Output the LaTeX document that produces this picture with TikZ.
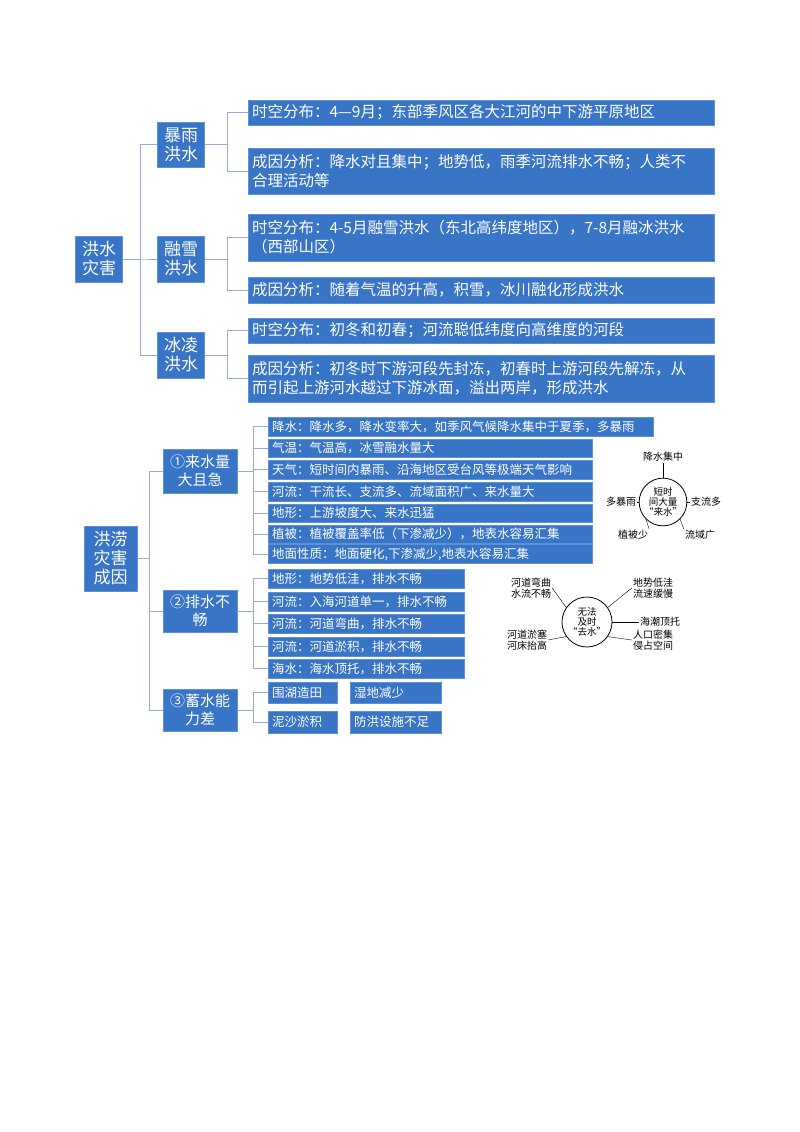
\documentclass[tikz,border=0pt]{standalone}
\usepackage{fontspec}
\setmainfont{Noto Sans CJK SC}
\definecolor{boxblue}{RGB}{56,117,199}
\definecolor{boxedge}{RGB}{95,145,215}
\definecolor{linkgray}{RGB}{150,172,212}
\tikzset{
    box/.style={draw=boxedge, fill=boxblue, text=white, inner sep=3pt, align=left},
    mid/.style={box, align=center, font=\fontsize{17}{19}\selectfont},
    leaf/.style={box, font=\fontsize{15.5}{19}\selectfont},
    small/.style={box, font=\fontsize{12.5}{14}\selectfont},
    link/.style={draw=linkgray, line width=0.8pt},
    lab/.style={inner sep=1pt, align=center, font=\fontsize{10}{10.5}\selectfont},
    ring/.style={draw, circle, line width=0.8pt, align=center, inner sep=0pt, font=\fontsize{9.5}{10}\selectfont}
}
\begin{document}
\begin{tikzpicture}[x=1pt,y=-1pt]
    \useasboundingbox (0,0) rectangle (800,1132);
    %Flom
        \node[mid, minimum width=47, minimum height=46] (hs) at (99,259) {洪水\\灾害};
        \node[mid, minimum width=47, minimum height=45] (by) at (181,144.5) {暴雨\\洪水};
        \node[mid, minimum width=47, minimum height=46] (rx) at (181,259) {融雪\\洪水};
        \node[mid, minimum width=47, minimum height=46] (bl) at (181,355) {冰凌\\洪水};
        \node[leaf, minimum width=466, minimum height=25, text width=458] (t1) at (481,112.5) {时空分布：4—9月；东部季风区各大江河的中下游平原地区};
        \node[leaf, minimum width=466, minimum height=46, text width=458] (t2) at (481,171) {成因分析：降水对且集中；地势低，雨季河流排水不畅；人类不\\合理活动等};
        \node[leaf, minimum width=466, minimum height=47, text width=458] (t3) at (481,237.5) {时空分布：4-5月融雪洪水（东北高纬度地区），7-8月融冰洪水\\（西部山区）};
        \node[leaf, minimum width=466, minimum height=26, text width=458] (t4) at (481,290) {成因分析：随着气温的升高，积雪，冰川融化形成洪水};
        \node[leaf, minimum width=466, minimum height=25, text width=458] (t5) at (481,330.5) {时空分布：初冬和初春；河流聪低纬度向高维度的河段};
        \node[leaf, minimum width=466, minimum height=47, text width=458] (t6) at (481,378.5) {成因分析：初冬时下游河段先封冻，初春时上游河段先解冻，从\\而引起上游河水越过下游冰面，溢出两岸，形成洪水};
        %
        \foreach \m in {by,rx,bl} \draw[link] (hs.east) -- ++(18,0) |- (\m.west);
        \draw[link] (by.east) -- ++(23,0) |- (t1.west);
        \draw[link] (by.east) -- ++(23,0) |- (t2.west);
        \draw[link] (rx.east) -- ++(23,0) |- (t3.west);
        \draw[link] (rx.east) -- ++(23,0) |- (t4.west);
        \draw[link] (bl.east) -- ++(23,0) |- (t5.west);
        \draw[link] (bl.east) -- ++(23,0) |- (t6.west);
    %Aarsaker
        \node[mid, minimum width=53, minimum height=65] (hl) at (110.5,558.5) {洪涝\\灾害\\成因};
        \node[mid, minimum width=74, minimum height=44, font=\fontsize{15}{18}\selectfont] (lsl) at (200,471) {①来水量\\大且急};
        \node[mid, minimum width=74, minimum height=42, font=\fontsize{15}{18}\selectfont] (psx) at (200,611) {②排水不\\畅};
        \node[mid, minimum width=74, minimum height=42, font=\fontsize{15}{18}\selectfont] (xsn) at (200,710) {③蓄水能\\力差};
        \foreach \m in {lsl,psx,xsn} \draw[link] (hl.east) -- ++(12,0) |- (\m.west);
        %
        \node[small, anchor=west, minimum width=385, minimum height=19, text width=377] (a1) at (268,426.5) {降水：降水多，降水变率大，如季风气候降水集中于夏季，多暴雨};
        \node[small, anchor=west, minimum width=324, minimum height=18, text width=316] (a2) at (268,448) {气温：气温高，冰雪融水量大};
        \node[small, anchor=west, minimum width=324, minimum height=19, text width=316] (a3) at (268,469.5) {天气：短时间内暴雨、沿海地区受台风等极端天气影响};
        \node[small, anchor=west, minimum width=324, minimum height=19, text width=316] (a4) at (268,491.5) {河流：干流长、支流多、流域面积广、来水量大};
        \node[small, anchor=west, minimum width=324, minimum height=18, text width=316] (a5) at (268,513) {地形：上游坡度大、来水迅猛};
        \node[small, anchor=west, minimum width=324, minimum height=18, text width=316] (a6) at (268,534) {植被：植被覆盖率低（下渗减少），地表水容易汇集};
        \node[small, anchor=west, minimum width=324, minimum height=18, text width=316] (a7) at (268,554) {地面性质：地面硬化,下渗减少,地表水容易汇集};
        \foreach \i in {1,...,7} \draw[link] (lsl.east) -- ++(16,0) |- (a\i.west);
        %
        \node[small, anchor=west, minimum width=196, minimum height=19, text width=188] (b1) at (268,578.5) {地形：地势低洼，排水不畅};
        \node[small, anchor=west, minimum width=196, minimum height=19, text width=188] (b2) at (268,601.5) {河流：入海河道单一，排水不畅};
        \node[small, anchor=west, minimum width=196, minimum height=19, text width=188] (b3) at (268,623.5) {河流：河道弯曲，排水不畅};
        \node[small, anchor=west, minimum width=196, minimum height=19, text width=188] (b4) at (268,646.5) {河流：河道淤积，排水不畅};
        \node[small, anchor=west, minimum width=196, minimum height=19, text width=188] (b5) at (268,668.5) {海水：海水顶托，排水不畅};
        \foreach \i in {1,...,5} \draw[link] (psx.east) -- ++(16,0) |- (b\i.west);
        %
        \node[small, anchor=west, minimum width=69, minimum height=21, text width=61] (c1) at (268,692.5) {围湖造田};
        \node[small, anchor=west, minimum width=91, minimum height=21, text width=83] (c2) at (350,692.5) {湿地减少};
        \node[small, anchor=west, minimum width=69, minimum height=22, text width=61] (c3) at (268,722) {泥沙淤积};
        \node[small, anchor=west, minimum width=91, minimum height=22, text width=83] (c4) at (350,722) {防洪设施不足};
        \draw[link] (xsn.east) -- ++(16,0) |- (c1.west);
        \draw[link] (xsn.east) -- ++(16,0) |- (c3.west);
    %Sirkler
        \node[ring, minimum size=43] (lai) at (663,502) {短时\\间大量\\“来水”};
        \node[lab] (n1) at (663,457) {降水集中};
        \node[lab] (n2) at (621,502) {多暴雨};
        \node[lab] (n3) at (706,502) {支流多};
        \node[lab] (n4) at (633,535) {植被少};
        \node[lab] (n5) at (700,535) {流域广};
        \draw (n1.south) -- (lai.north);
        \draw (n2.east) -- (lai.west);
        \draw (n3.west) -- (lai.east);
        \draw (n4.north east) -- (lai.225);
        \draw (n5.north west) -- (lai.315);
        %
        \node[ring, minimum size=50] (qu) at (587,622) {无法\\及时\\“去水”};
        \node[lab] (m1) at (531,588) {河道弯曲\\水流不畅};
        \node[lab] (m2) at (653,588) {地势低洼\\流速缓慢};
        \node[lab] (m3) at (660,622) {海潮顶托};
        \node[lab] (m4) at (527,640) {河道淤塞\\河床抬高};
        \node[lab] (m5) at (653,640) {人口密集\\侵占空间};
        \draw (m1.east) -- (qu.145);
        \draw (m2.west) -- (qu.35);
        \draw (m3.west) -- (qu.east);
        \draw (m4.east) -- (qu.215);
        \draw (m5.west) -- (qu.325);
\end{tikzpicture}
\end{document}
